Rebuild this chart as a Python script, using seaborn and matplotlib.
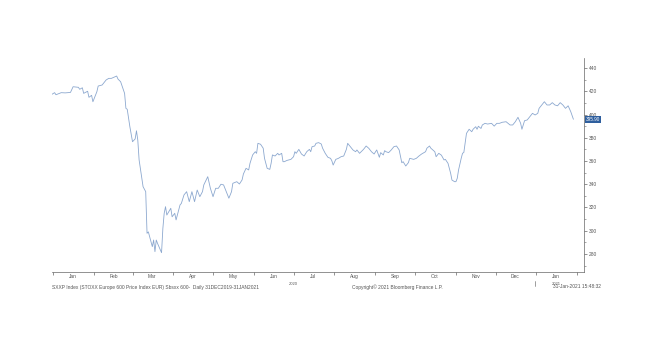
import pandas as pd
import matplotlib.pyplot as plt
import matplotlib.dates as mdates
import matplotlib.ticker as mticker
import seaborn as sns

# SXXP daily close (31 Dec 2019 - 29 Jan 2021)
dates = [
    "2019-12-31", "2020-01-02", "2020-01-03", "2020-01-07", "2020-01-10", "2020-01-14",
    "2020-01-16", "2020-01-20", "2020-01-21", "2020-01-23", "2020-01-24", "2020-01-27",
    "2020-01-28", "2020-01-30", "2020-01-31", "2020-02-03", "2020-02-04", "2020-02-07",
    "2020-02-10", "2020-02-12", "2020-02-14", "2020-02-18", "2020-02-19", "2020-02-21",
    "2020-02-24", "2020-02-25", "2020-02-26", "2020-02-28", "2020-03-01", "2020-03-03",
    "2020-03-04", "2020-03-05", "2020-03-06", "2020-03-09", "2020-03-11", "2020-03-12",
    "2020-03-13", "2020-03-16", "2020-03-17", "2020-03-18", "2020-03-19", "2020-03-20",
    "2020-03-23", "2020-03-24", "2020-03-25", "2020-03-26", "2020-03-27", "2020-03-30",
    "2020-03-31", "2020-04-02", "2020-04-03", "2020-04-06", "2020-04-07", "2020-04-09",
    "2020-04-11", "2020-04-13", "2020-04-15", "2020-04-17", "2020-04-19", "2020-04-21",
    "2020-04-23", "2020-04-24", "2020-04-27", "2020-04-29", "2020-05-01", "2020-05-03",
    "2020-05-05", "2020-05-07", "2020-05-09", "2020-05-11", "2020-05-13", "2020-05-15",
    "2020-05-16", "2020-05-19", "2020-05-21", "2020-05-23", "2020-05-24", "2020-05-26",
    "2020-05-28", "2020-05-29", "2020-05-31", "2020-06-02", "2020-06-03", "2020-06-04",
    "2020-06-06", "2020-06-08", "2020-06-09", "2020-06-11", "2020-06-13", "2020-06-14",
    "2020-06-15", "2020-06-17", "2020-06-19", "2020-06-20", "2020-06-22", "2020-06-23",
    "2020-06-24", "2020-06-26", "2020-06-29", "2020-07-01", "2020-07-02", "2020-07-03",
    "2020-07-05", "2020-07-07", "2020-07-09", "2020-07-11", "2020-07-13", "2020-07-14",
    "2020-07-15", "2020-07-17", "2020-07-18", "2020-07-20", "2020-07-22", "2020-07-23",
    "2020-07-25", "2020-07-27", "2020-07-29", "2020-07-30", "2020-07-31", "2020-08-02",
    "2020-08-04", "2020-08-06", "2020-08-08", "2020-08-10", "2020-08-11", "2020-08-13",
    "2020-08-15", "2020-08-17", "2020-08-18", "2020-08-20", "2020-08-22", "2020-08-23",
    "2020-08-25", "2020-08-27", "2020-08-29", "2020-08-31", "2020-09-02", "2020-09-04",
    "2020-09-05", "2020-09-07", "2020-09-08", "2020-09-09", "2020-09-11", "2020-09-13",
    "2020-09-15", "2020-09-17", "2020-09-19", "2020-09-21", "2020-09-22", "2020-09-24",
    "2020-09-26", "2020-09-27", "2020-09-30", "2020-10-02", "2020-10-04", "2020-10-06",
    "2020-10-09", "2020-10-10", "2020-10-12", "2020-10-13", "2020-10-16", "2020-10-17",
    "2020-10-19", "2020-10-21", "2020-10-23", "2020-10-24", "2020-10-26", "2020-10-27",
    "2020-10-28", "2020-10-29", "2020-10-31", "2020-11-01", "2020-11-02", "2020-11-03",
    "2020-11-05", "2020-11-06", "2020-11-07", "2020-11-09", "2020-11-11", "2020-11-13",
    "2020-11-14", "2020-11-16", "2020-11-17", "2020-11-18", "2020-11-20", "2020-11-21",
    "2020-11-23", "2020-11-25", "2020-11-28", "2020-11-30", "2020-12-02", "2020-12-04",
    "2020-12-06", "2020-12-09", "2020-12-12", "2020-12-14", "2020-12-16", "2020-12-18",
    "2020-12-20", "2020-12-21", "2020-12-23", "2020-12-25", "2020-12-27", "2020-12-29",
    "2020-12-31", "2021-01-02", "2021-01-03", "2021-01-05", "2021-01-07", "2021-01-09",
    "2021-01-11", "2021-01-13", "2021-01-15", "2021-01-17", "2021-01-19", "2021-01-21",
    "2021-01-23", "2021-01-25", "2021-01-27", "2021-01-29",
]
prices = [
    417.4, 418.8, 417.0, 418.8, 418.6, 419.0,
    423.9, 423.4, 421.7, 423.0, 418.2, 420.0,
    414.8, 416.5, 411.0, 419.6, 424.5, 425.4,
    429.7, 431.1, 431.1, 433.1, 430.5, 428.2,
    418.2, 405.3, 404.5, 389.5, 376.6, 379.0,
    386.0, 378.0, 360.9, 337.9, 333.6, 297.8,
    299.0, 286.3, 292.0, 282.0, 292.0, 289.0,
    281.1, 302.0, 315.0, 320.7, 313.5, 319.3,
    312.0, 315.0, 309.3, 322.2, 323.5, 330.8,
    333.6, 325.0, 333.6, 325.0, 335.0, 329.3,
    333.6, 339.4, 346.5, 336.5, 329.3, 336.5,
    336.5, 340.0, 339.4, 333.6, 328.0, 333.6,
    340.8, 342.2, 340.2, 343.7, 348.8, 353.7,
    352.3, 358.0, 365.2, 368.0, 366.6, 375.2,
    374.4, 371.0, 362.3, 353.7, 352.8, 358.0,
    365.2, 364.3, 366.6, 365.2, 366.6, 359.4,
    359.4, 360.5, 361.4, 363.7, 368.0, 366.6,
    370.0, 366.0, 364.3, 368.0, 370.0, 368.0,
    372.3, 372.9, 375.2, 375.8, 374.6, 371.0,
    366.6, 363.2, 362.3, 360.2, 356.5, 361.4,
    362.3, 363.7, 364.3, 370.0, 375.2, 372.3,
    369.5, 368.0, 369.5, 366.6, 368.9, 370.0,
    372.9, 370.9, 368.0, 366.0, 369.5, 363.2,
    367.2, 365.2, 368.9, 368.0, 367.2, 369.5,
    372.3, 372.9, 369.5, 358.5, 359.4, 355.7,
    358.6, 362.3, 361.4, 362.3, 364.3, 366.0,
    368.0, 371.0, 372.9, 371.0, 368.0, 363.7,
    366.6, 365.0, 360.9, 361.4, 358.0, 353.7,
    349.4, 343.6, 342.2, 342.2, 345.1, 352.3,
    362.3, 366.6, 367.4, 383.8, 387.3, 385.2,
    387.3, 389.5, 387.3, 389.9, 388.0, 391.0,
    392.4, 391.8, 392.4, 390.0, 392.4, 392.4,
    393.3, 393.8, 391.0, 391.0, 393.8, 397.6,
    392.5, 387.3, 394.7, 395.3, 398.1, 401.0,
    399.6, 401.0, 405.3, 408.2, 411.0, 408.2,
    408.2, 410.2, 408.2, 407.5, 410.2, 408.2,
    405.3, 407.5, 402.4, 395.9,
]
last_label = "395.90"
y_ticks = [280, 300, 320, 340, 360, 380, 400, 420, 440]

df = pd.DataFrame({"date": pd.to_datetime(dates), "price": prices})

sns.set_style("ticks")
plt.rcParams["font.family"] = ["Liberation Sans", "DejaVu Sans"]

txt_col = "#555555"
axis_col = "#666666"

fig = plt.figure(figsize=(6.49, 3.56), dpi=100)
ax = fig.add_axes([0.0801, 0.236, 0.8197, 0.601])

sns.lineplot(data=df, x="date", y="price", ax=ax, color="#8ca8cf", linewidth=0.6)

ax.set_xlim(pd.Timestamp("2019-12-31"), pd.Timestamp("2021-02-06"))
ax.set_ylim(264.5, 448.6)
ax.set_xlabel("")
ax.set_ylabel("")

sns.despine(ax=ax, left=True, right=False, top=True)
for side in ["bottom", "right"]:
    ax.spines[side].set_linewidth(0.5)
    ax.spines[side].set_color(axis_col)

# y axis on the right with minor ticks every 10
ax.yaxis.tick_right()
ax.set_yticks(y_ticks)
ax.set_yticklabels([str(v) for v in y_ticks])
ax.yaxis.set_minor_locator(mticker.MultipleLocator(10))
ax.tick_params(axis="y", which="major", length=2, width=0.5, labelsize=3.5, pad=1.5,
               colors=axis_col, labelcolor=txt_col)
ax.tick_params(axis="y", which="minor", length=1.2, width=0.4, colors=axis_col)

# month boundaries as ticks, month names centred in between
ax.xaxis.set_major_locator(mdates.MonthLocator(bymonthday=1))
ax.xaxis.set_major_formatter(mticker.NullFormatter())
ax.xaxis.set_minor_locator(mdates.MonthLocator(bymonthday=16))
ax.xaxis.set_minor_formatter(mdates.DateFormatter("%b"))
ax.tick_params(axis="x", which="major", length=1.8, width=0.5, colors=axis_col)
ax.tick_params(axis="x", which="minor", length=0, labelsize=3.5, pad=1.5,
               labelcolor=txt_col)

# year labels and year separator below the axis
ax.text(pd.Timestamp("2020-07-01"), -0.045, "2020", transform=ax.get_xaxis_transform(),
        ha="center", va="top", fontsize=3, color=txt_col)
ax.text(pd.Timestamp("2021-01-16"), -0.045, "2021", transform=ax.get_xaxis_transform(),
        ha="center", va="top", fontsize=3, color=txt_col)
ax.axvline(pd.Timestamp("2020-12-31"), ymin=-0.065, ymax=-0.04, clip_on=False,
           color="#777777", linewidth=0.5)

# last price box
ax.annotate(last_label, xy=(1.0, prices[-1]), xycoords=("axes fraction", "data"),
            xytext=(1.5, 0), textcoords="offset points", ha="left", va="center",
            fontsize=3.3, color="white",
            bbox=dict(boxstyle="square,pad=0.25", fc="#2f5f9e", ec="none"))

# footer
fig.text(52 / 649, 1 - 287 / 356, "SXXP Index (STOXX Europe 600 Price Index EUR) Sbsxx 600-  Daily 31DEC2019-31JAN2021",
         ha="left", va="center", fontsize=3.5, color=txt_col)
fig.text(352 / 649, 1 - 287 / 356, "Copyright\u00a9 2021 Bloomberg Finance L.P.",
         ha="left", va="center", fontsize=3.5, color=txt_col)
fig.text(553 / 649, 1 - 287 / 356, "31-Jan-2021 15:48:32",
         ha="left", va="center", fontsize=3.5, color=txt_col)

fig.savefig("out.png", dpi=100)
